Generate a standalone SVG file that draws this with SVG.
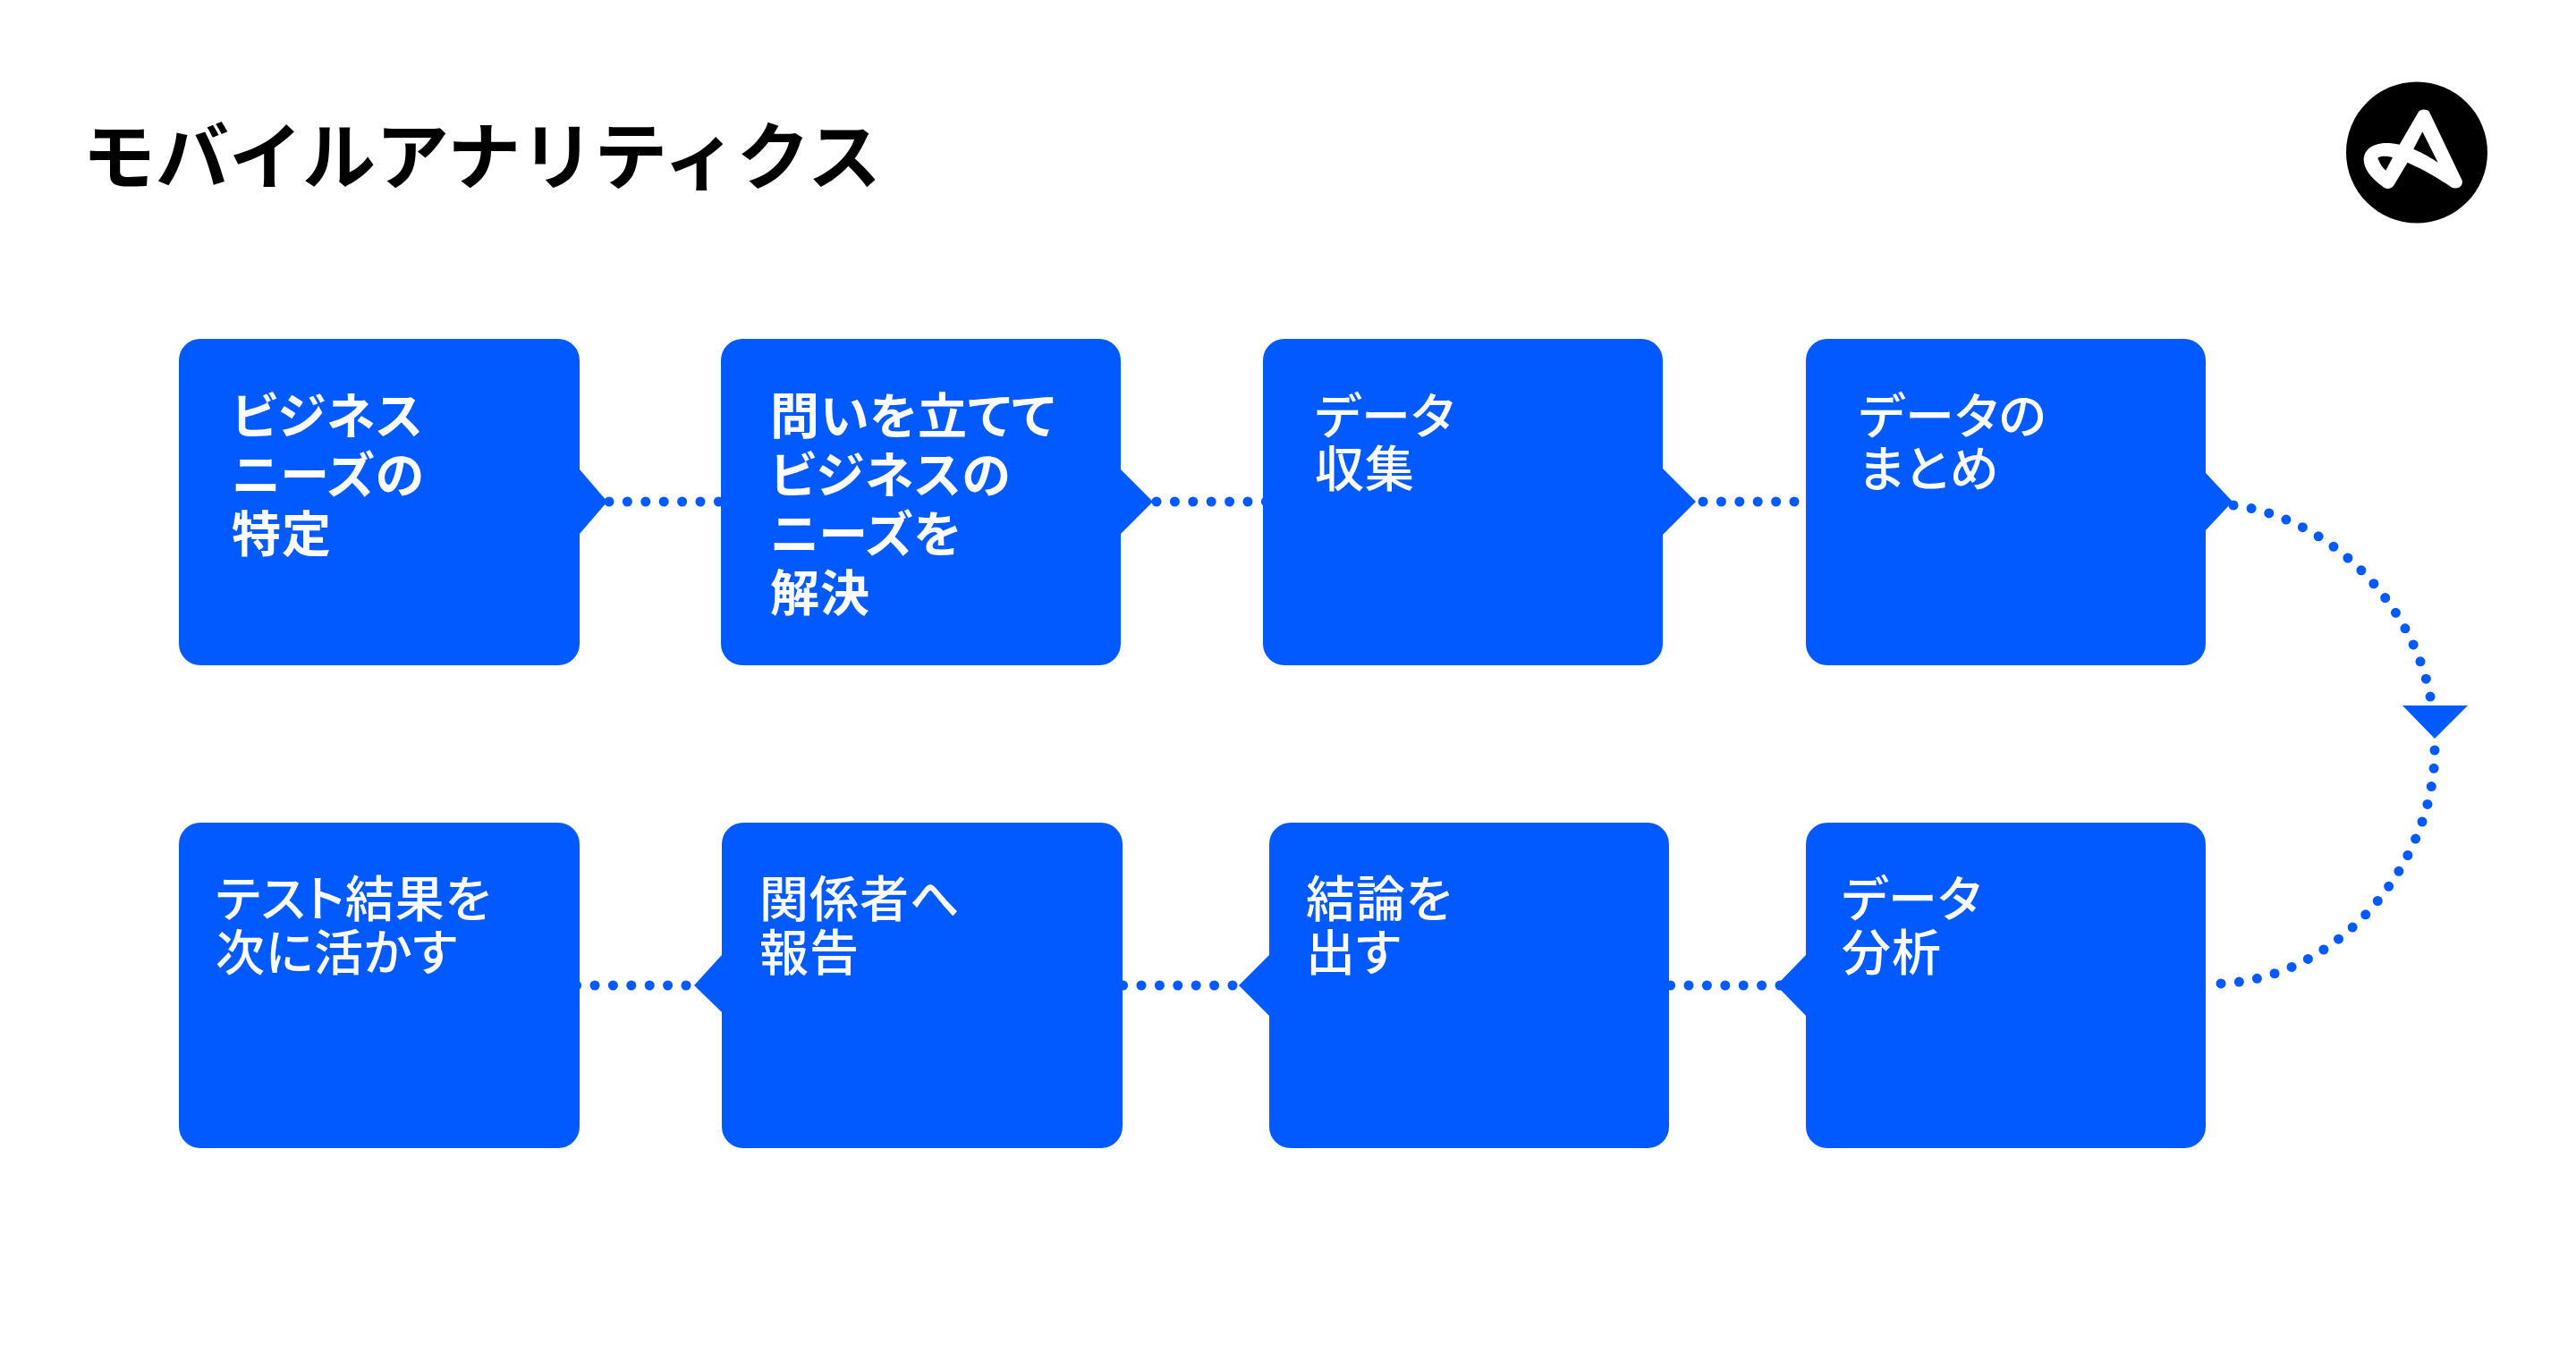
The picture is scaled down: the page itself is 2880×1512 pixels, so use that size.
<svg xmlns="http://www.w3.org/2000/svg" width="2880" height="1512" viewBox="0 0 2880 1512">
<style>
.n{fill:#005aff}
.c{fill:none;stroke:#005aff;stroke-width:11;stroke-linecap:round;stroke-dasharray:0 20.4}
text{font-family:"Noto Sans CJK JP","Noto Sans",sans-serif}
.t{fill:#fff;font-size:55px;font-weight:500;font-feature-settings:"palt";letter-spacing:1px}
.b{fill:#fff;font-size:55px;font-weight:700;font-feature-settings:"palt";letter-spacing:1px}
.h{fill:#000;font-size:82px;font-weight:700}
</style>
<rect width="2880" height="1512" fill="#fff"/>
<text class="h" x="92" y="205">モバイルアナリティクス</text>
<g id="logo"><circle cx="2702" cy="170.5" r="79" fill="#000"/>
<path transform="translate(2560 60) scale(.3333)" fill="#fff" fill-rule="evenodd" d="M432 195C437 187 458 183 468 195L578 425C582 445 565 455 545 450C495 415 450 390 395 365L350 440C340 456 322 456 310 445C270 415 248 385 248 355C250 310 300 290 368 305ZM445 262L415 320C450 335 475 350 497 365ZM295 350C305 375 312 382 322 392L345 348C325 343 305 342 295 350Z"/></g>
<g id="connectors">
<path class="c" d="M681 561H810"/>
<path class="c" d="M1293 561H1420"/>
<path class="c" d="M1904 561H2030"/>
<path class="c" d="M2497 565C2610 580 2700 680 2718 784"/>
<path class="c" d="M2722 839C2722 960 2620 1095 2481 1100"/>
<path class="c" d="M1990 1102H1860"/>
<path class="c" d="M1378 1102H1250"/>
<path class="c" d="M767 1102H640"/>
<path class="n" d="M2686 789H2759L2722 826Z"/>
</g>
<g id="node1"><path class="n" d="M224 379H624a24 24 0 0 1 24 24V525L679 561L648 597V720a24 24 0 0 1-24 24H224a24 24 0 0 1-24-24V403a24 24 0 0 1 24-24Z"/>
<text class="b" x="259" y="485">ビジネス</text><text class="b" x="259" y="551">ニーズの</text><text class="b" x="259" y="617">特定</text></g>
<g id="node2"><path class="n" d="M830 379H1229a24 24 0 0 1 24 24V525L1289 561L1253 597V720a24 24 0 0 1-24 24H830a24 24 0 0 1-24-24V403a24 24 0 0 1 24-24Z"/>
<text class="b" x="861" y="485">問いを立てて</text><text class="b" x="861" y="551">ビジネスの</text><text class="b" x="861" y="617">ニーズを</text><text class="b" x="861" y="683">解決</text></g>
<g id="node3"><path class="n" d="M1436 379H1835a24 24 0 0 1 24 24V524L1896 561L1859 598V720a24 24 0 0 1-24 24H1436a24 24 0 0 1-24-24V403a24 24 0 0 1 24-24Z"/>
<text class="t" x="1470" y="485">データ</text><text class="t" x="1470" y="544">収集</text></g>
<g id="node4"><path class="n" d="M2043 379H2442a24 24 0 0 1 24 24V529L2496 561L2466 593V720a24 24 0 0 1-24 24H2043a24 24 0 0 1-24-24V403a24 24 0 0 1 24-24Z"/>
<text class="t" x="2078" y="485">データの</text><text class="t" x="2078" y="544">まとめ</text></g>
<g id="node5"><path class="n" d="M2043 920H2442a24 24 0 0 1 24 24V1260a24 24 0 0 1-24 24H2043a24 24 0 0 1-24-24V1136L1986 1102L2019 1068V944a24 24 0 0 1 24-24Z"/>
<text class="t" x="2059" y="1025">データ</text><text class="t" x="2059" y="1085">分析</text></g>
<g id="node6"><path class="n" d="M1443 920H1842a24 24 0 0 1 24 24V1260a24 24 0 0 1-24 24H1443a24 24 0 0 1-24-24V1136L1385 1102L1419 1068V944a24 24 0 0 1 24-24Z"/>
<text class="t" x="1460" y="1025">結論を</text><text class="t" x="1460" y="1085">出す</text></g>
<g id="node7"><path class="n" d="M831 920H1231a24 24 0 0 1 24 24V1260a24 24 0 0 1-24 24H831a24 24 0 0 1-24-24V1132L776 1102L807 1068V944a24 24 0 0 1 24-24Z"/>
<text class="t" x="849" y="1025">関係者へ</text><text class="t" x="849" y="1085">報告</text></g>
<g id="node8"><rect class="n" x="200" y="920" width="448" height="364" rx="24"/>
<text class="t" x="241" y="1025">テスト結果を</text><text class="t" x="241" y="1085">次に活かす</text></g>
</svg>
